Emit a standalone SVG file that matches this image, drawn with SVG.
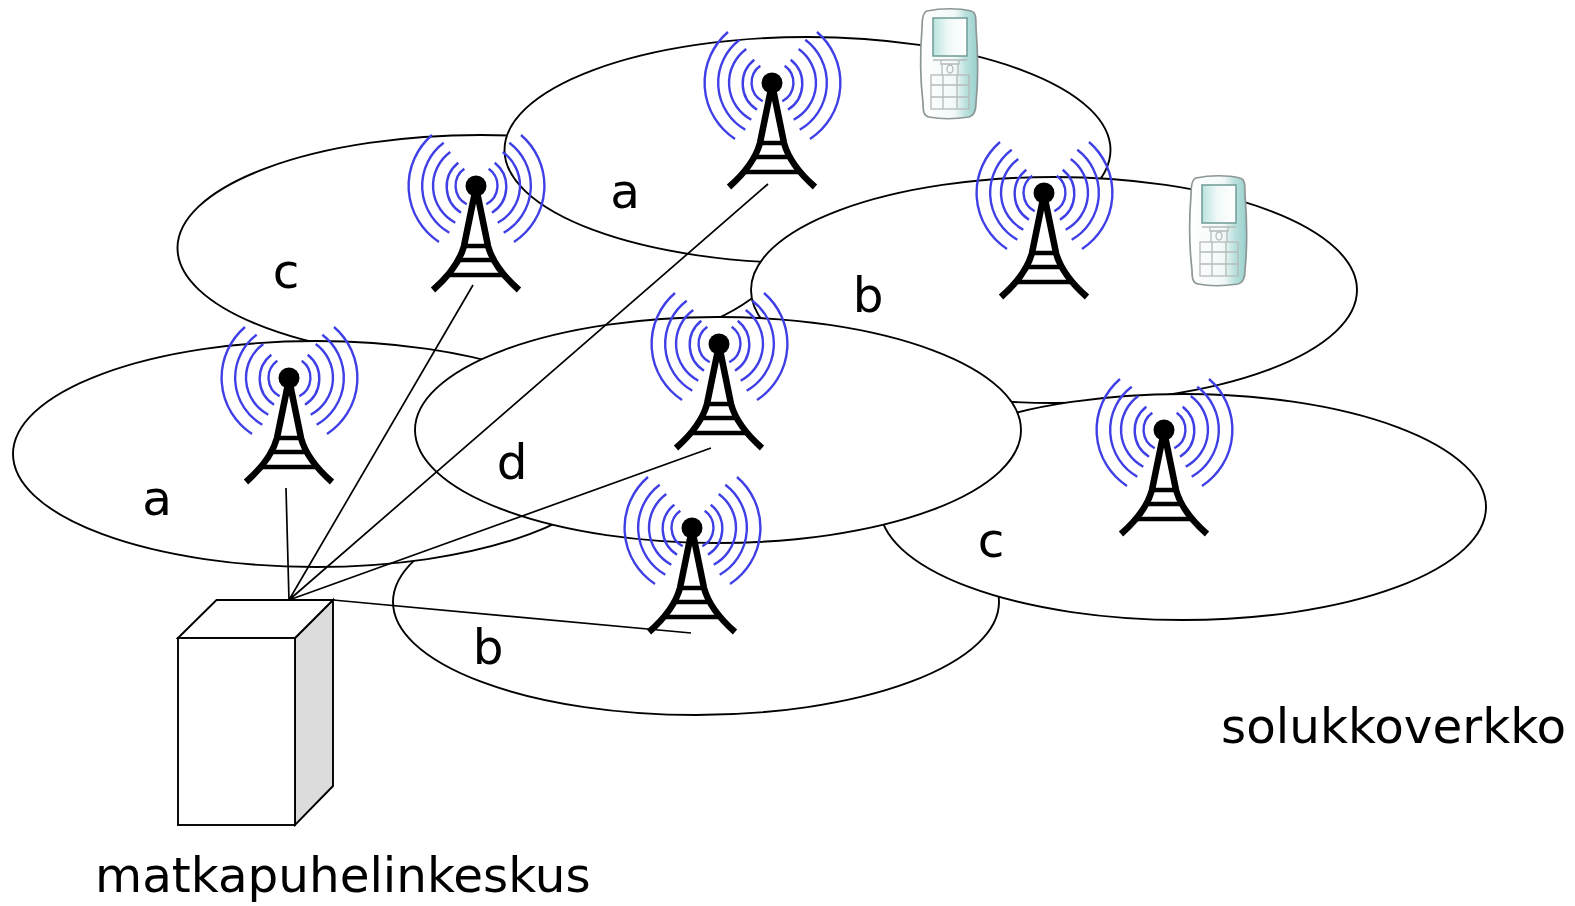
<svg xmlns="http://www.w3.org/2000/svg" width="1575" height="906" viewBox="0 0 1575 906">
<style>
.cell{fill:#fff;stroke:#000;stroke-width:1.900}
.wire{fill:none;stroke:#000;stroke-width:1.700}
.box{stroke:#000;stroke-width:1.900}
.lbl{font-family:"DejaVu Sans",sans-serif;font-size:48.400px;fill:#000}
.wave{fill:none;stroke:#3f3fe6;stroke-width:2.400}
.mast{fill:none;stroke:#000;stroke-width:6.500}
.rung{fill:none;stroke:#000;stroke-width:4.500}
.ps{fill:none;stroke:#b4baba;stroke-width:1.300}
</style>
<defs>
<linearGradient id="body" x1="0" x2="1" y1="0" y2="0"><stop offset="0" stop-color="#fff"/><stop offset="0.6" stop-color="#f2f8f8"/><stop offset="0.8" stop-color="#b8e0dc"/><stop offset="1" stop-color="#9ad0cc"/></linearGradient>
<linearGradient id="screen" x1="0" x2="1" y1="0" y2="0"><stop offset="0" stop-color="#b9e3de"/><stop offset="0.45" stop-color="#f0f9f8"/><stop offset="1" stop-color="#fff"/></linearGradient>
<g id="tower">
<g class="wave">
<path d="M-44-51A67 67 0 0 0-37 56M-32.300-43.300A54 54 0 0 0-26.700 46.700M-25.700-34A41.700 41.700 0 0 0-20.700 36.700M-17.700-23.300A30.700 30.700 0 0 0-15 26.700M-11.700-17.300A21 21 0 0 0-9.300 18.300"/>
<path d="M45-51A67 67 0 0 1 38 56M33.300-43.300A54 54 0 0 1 27.700 46.700M26.700-34A41.700 41.700 0 0 1 21.700 36.700M18.700-23.300A30.700 30.700 0 0 1 16 26.700M12.700-17.300A21 21 0 0 1 10.300 18.300"/>
</g>
<circle r="10.500" fill="#000"/>
<path class="mast" d="M-1 6L-12 60Q-18 82-43 104M1 6L12 60Q18 82 43 104"/>
<path class="rung" d="M-12 60H12M-18 74H18M-27 89H27"/>
</g>
<g id="phone">
<path d="M6 3C20 0 38 0 50 3C55 4 55 10 55 20C57 45 57 75 55 95C55 104 53 108 48 109C35 111 18 111 8 109C3 108 2 104 2 95C-1 70-1 45 1 20C1 10 2 4 6 3Z" fill="url(#body)" stroke="#8c9696" stroke-width="1.700"/>
<rect x="12" y="10" width="34" height="38" fill="url(#screen)" stroke="#6f9a96" stroke-width="1.500"/>
<path class="ps" d="M12 52H46M20 52V56H38V52M21 56V67M37 56V67"/>
<ellipse cx="29" cy="61" rx="3" ry="4" class="ps"/>
<rect x="10" y="67" width="38" height="34" fill="#fff" class="ps"/>
<path class="ps" d="M10 77H48M10 89H48M22 67V101M36 67V101"/>
</g>
</defs>
<g id="cells">
<ellipse id="cell-c1" class="cell" cx="480.500" cy="248" rx="303" ry="113"/>
<ellipse id="cell-a1" class="cell" cx="807.500" cy="150" rx="303" ry="113"/>
<ellipse id="cell-b1" class="cell" cx="1054" cy="290" rx="303" ry="113"/>
<ellipse id="cell-b2" class="cell" cx="696" cy="602" rx="303" ry="113"/>
<ellipse id="cell-c2" class="cell" cx="1183" cy="507" rx="303" ry="113"/>
<ellipse id="cell-a2" class="cell" cx="316" cy="454" rx="303" ry="113"/>
<ellipse id="cell-d" class="cell" cx="718" cy="430" rx="303" ry="113"/>
</g>
<g id="tower-1"><use href="#tower" x="772" y="83"/></g>
<g id="tower-2"><use href="#tower" x="476" y="186"/></g>
<g id="tower-3"><use href="#tower" x="1044" y="193"/></g>
<g id="tower-4"><use href="#tower" x="719" y="344"/></g>
<g id="tower-5"><use href="#tower" x="289" y="378"/></g>
<g id="tower-6"><use href="#tower" x="1164" y="430"/></g>
<g id="tower-7"><use href="#tower" x="692" y="528"/></g>
<g id="phone-1"><use href="#phone" x="921" y="8"/></g>
<g id="phone-2"><use href="#phone" x="1190" y="175"/></g>
<g id="connectors">
<path class="wire" d="M289 600L286 488M289 600L473 285M289 600L768 184M289 600L711 448M289 600L333 600L691 633"/>
</g>
<g id="switch">
<path class="box" d="M295 638L333 600V786L295 825Z" fill="#dcdcdc"/>
<path class="box" d="M178 638L216.500 600H333L295 638Z" fill="#fff"/>
<rect class="box" x="178" y="638" width="117" height="187" fill="#fff"/>
<path class="wire" d="M289 600L333 600"/>
</g>
<g id="labels">
<text class="lbl" x="625" y="208" text-anchor="middle">a</text>
<text class="lbl" x="286" y="288" text-anchor="middle">c</text>
<text class="lbl" x="868" y="312" text-anchor="middle">b</text>
<text class="lbl" x="157" y="515" text-anchor="middle">a</text>
<text class="lbl" x="512" y="479" text-anchor="middle">d</text>
<text class="lbl" x="991" y="557" text-anchor="middle">c</text>
<text class="lbl" x="488" y="664" text-anchor="middle">b</text>
<text class="lbl" x="1221" y="743">solukkoverkko</text>
<text class="lbl" x="95" y="892">matkapuhelinkeskus</text>
</g>
</svg>
